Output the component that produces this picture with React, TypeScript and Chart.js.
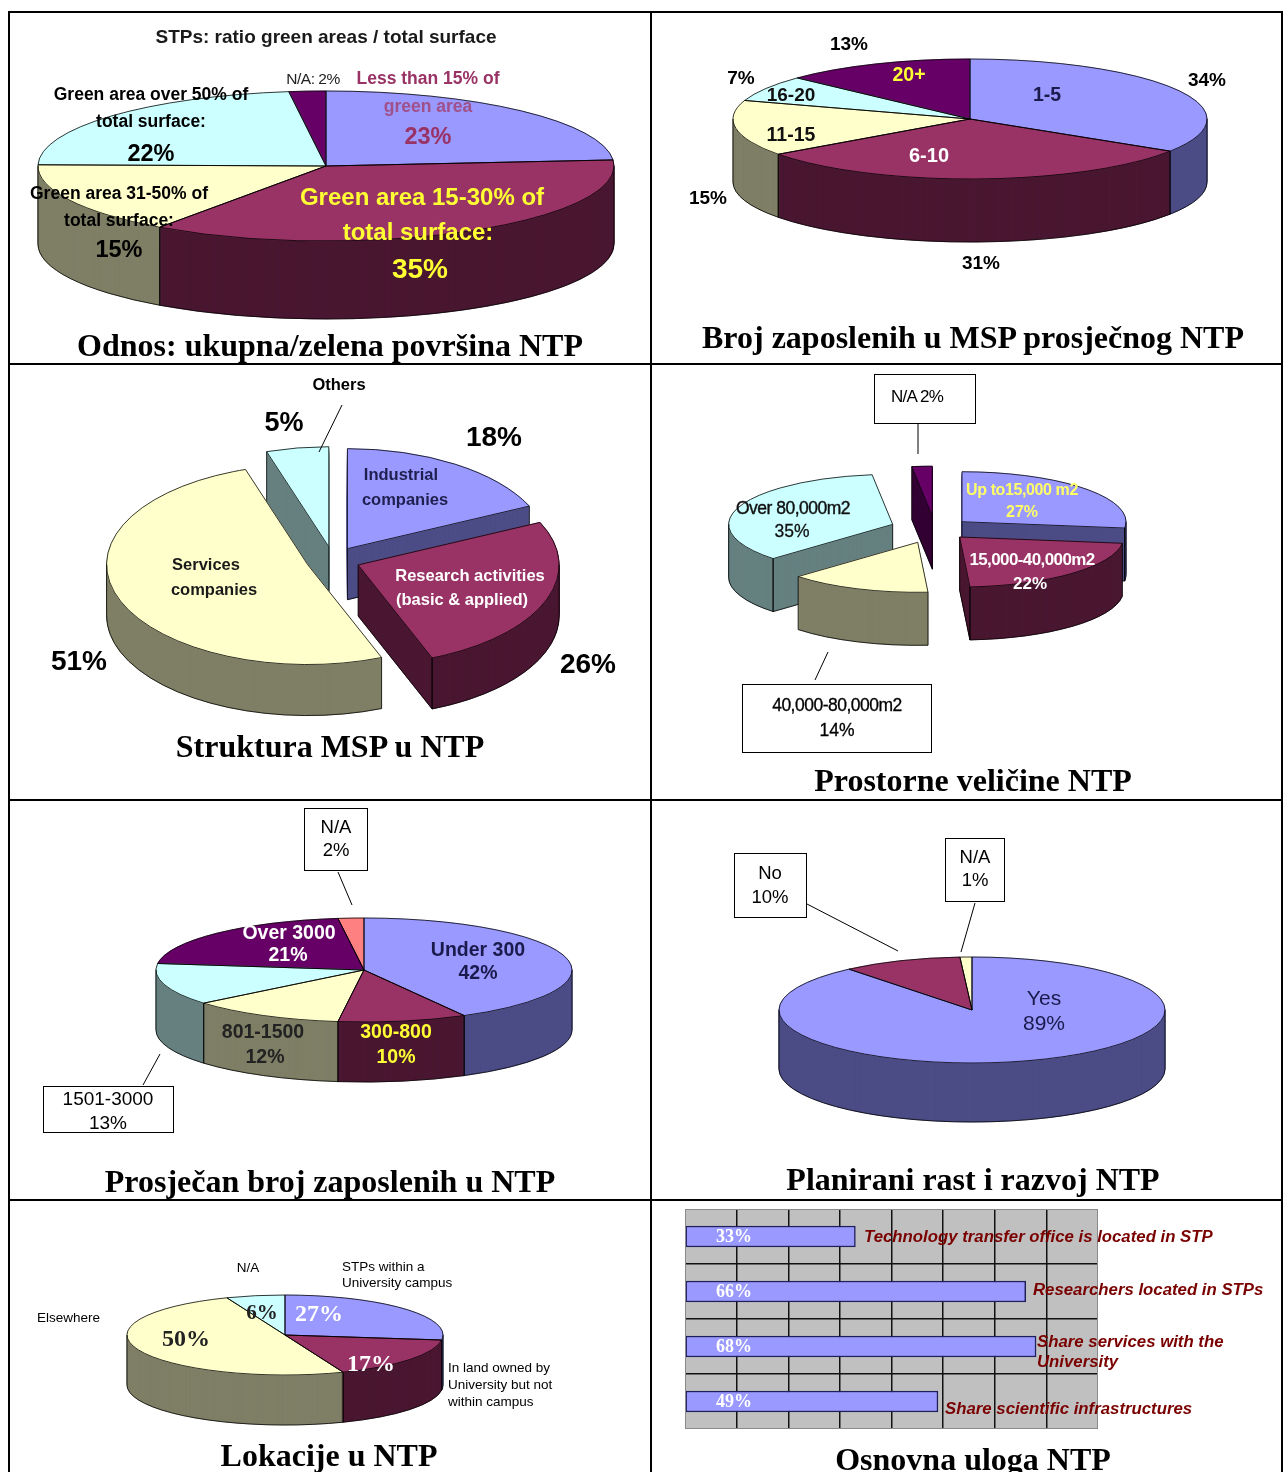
import React, { useEffect, useRef } from 'react';
import { Chart, registerables } from 'chart.js';

Chart.register(...registerables);

const SANS = '"Liberation Sans", Arial, Helvetica, sans-serif';
const SERIF = '"Liberation Serif", "Times New Roman", Times, serif';

// ---------------- data ----------------
const p1Labels = ['Less than 15% of green area', 'Green area 15-30% of total surface', 'Green area 31-50% of total surface', 'Green area over 50% of total surface', 'N/A'];
const p1Values = [23, 35, 15, 22, 2];

const p2Labels = ['1-5', '6-10', '11-15', '16-20', '20+'];
const p2Values = [34, 31, 15, 7, 13];

const p3Labels = ['Industrial companies', 'Research activities (basic & applied)', 'Services companies', 'Others'];
const p3Values = [18, 26, 51, 5];

const p4Labels = ['Up to15,000 m2', '15,000-40,000m2', '40,000-80,000m2', 'Over 80,000m2', 'N/A'];
const p4Values = [27, 22, 14, 35, 2];

const p5Labels = ['Under 300', '300-800', '801-1500', '1501-3000', 'Over 3000', 'N/A'];
const p5Values = [42, 10, 12, 13, 21, 2];

const p6Labels = ['Yes', 'No', 'N/A'];
const p6Values = [89, 10, 1];

const p7Labels = ['STPs within a University campus', 'In land owned by University but not within campus', 'Elsewhere', 'N/A'];
const p7Values = [27, 17, 50, 6];

const p8Categories = ['Technology transfer office is located in STP', 'Researchers located in STPs', 'Share services with the University', 'Share scientific infrastructures'];
const p8Values = [33, 66, 68, 49];
const p8AxisMin = 0;
const p8AxisMax = 80;
const p8AxisStep = 10;

// ---------------- colours ----------------
const LAV = '#9999ff', LAV_S = '#4c4c86';
const MAR = '#993366', MAR_S = '#4a1731';
const YEL = '#ffffcc', YEL_S = '#7f7f66';
const CYA = '#ccffff', CYA_S = '#668080';
const PUR = '#660066', PUR_S = '#330033';
const SAL = '#ff8080', SAL_S = '#804040';
const YT = '#ffff33';

type Geo = { cx: number; cy: number; rx: number; ry: number; depth: number; explode?: number[] };
type Rect = { left: number; top: number; width: number; height: number };

function makePie3d(geo: Geo, rect: Rect, colors: string[], sides: string[]) {
  return {
    id: 'pie3d',
    beforeDatasetsDraw(chart: any) {
      const ctx: CanvasRenderingContext2D = chart.ctx;
      const arcs: any[] = chart.getDatasetMeta(0).data;
      if (!arcs.length) return false;
      const cx = geo.cx - rect.left;
      const cy = geo.cy - rect.top;
      const rx = arcs[0].outerRadius;
      const ry = geo.ry;
      const k = ry / rx;
      const D = geo.depth;
      const ox = arcs[0].x, oy = arcs[0].y;
      const ex = geo.explode || [];
      const exploded = ex.some((e) => e > 0);
      const sh = arcs.map((a, i) => {
        const e = ex[i] || 0;
        const m = (a.startAngle + a.endAngle) / 2;
        return [e * Math.cos(m), e * Math.sin(m) * k];
      });
      const face = (a: any, i: number, dy: number, fill: string) => {
        ctx.save();
        ctx.translate(cx + sh[i][0], cy + sh[i][1] + dy);
        ctx.scale(1, k);
        ctx.translate(-ox, -oy);
        const fake = Object.create(a);
        fake.options = Object.assign({}, a.options, {
          backgroundColor: fill, borderColor: fill, borderWidth: 1, offset: 0, spacing: 0,
          borderAlign: 'center', borderDash: [], borderDashOffset: 0, borderJoinStyle: 'round', circular: true,
        });
        a.draw.call(fake, ctx);
        ctx.restore();
      };
      const ln = (x1: number, y1: number, x2: number, y2: number) => {
        ctx.beginPath(); ctx.moveTo(x1, y1); ctx.lineTo(x2, y2); ctx.stroke();
      };
      const outline = (a: any, i: number) => {
        ctx.save();
        ctx.strokeStyle = 'rgba(0,0,0,0.78)';
        ctx.lineWidth = 1;
        const X = cx + sh[i][0], Y = cy + sh[i][1];
        const s = a.startAngle, e = a.endAngle;
        const px = (t: number) => X + rx * Math.cos(t);
        const py = (t: number) => Y + ry * Math.sin(t);
        ctx.beginPath();
        ctx.moveTo(X, Y);
        ctx.lineTo(px(s), py(s));
        ctx.ellipse(X, Y, rx, ry, 0, s, e);
        ctx.closePath();
        ctx.stroke();
        const a0 = Math.max(s, 0), a1 = Math.min(e, Math.PI);
        if (a1 > a0) {
          ctx.beginPath();
          ctx.ellipse(X, Y + D, rx, ry, 0, a0, a1);
          ctx.stroke();
          ln(px(a0), py(a0), px(a0), py(a0) + D);
          ln(px(a1), py(a1), px(a1), py(a1) + D);
        }
        if ((ex[i] || 0) > 0) {
          const faces: number[] = [];
          if (Math.cos(s) < -1e-6) faces.push(s);
          if (Math.cos(e) > 1e-6) faces.push(e);
          for (const t of faces) {
            ln(X, Y, X, Y + D);
            ln(px(t), py(t), px(t), py(t) + D);
            ln(X, Y + D, px(t), py(t) + D);
          }
        }
        ctx.restore();
      };
      const mid = (i: number) => Math.sin((arcs[i].startAngle + arcs[i].endAngle) / 2);
      const order = arcs.map((_a, i) => i).sort((p, q) => mid(p) - mid(q));
      if (exploded) {
        for (const i of order) {
          for (let d = D; d >= 1; d--) face(arcs[i], i, d, sides[i]);
          face(arcs[i], i, 0, colors[i]);
          outline(arcs[i], i);
        }
      } else {
        for (let d = D; d >= 1; d--) for (const i of order) face(arcs[i], i, d, sides[i]);
        for (const i of order) face(arcs[i], i, 0, colors[i]);
        for (const i of order) outline(arcs[i], i);
      }
      return false;
    },
  };
}

function Pie3D({ rect, labels, values, colors, sides, geo }: { rect: Rect; labels: string[]; values: number[]; colors: string[]; sides: string[]; geo: Geo }) {
  const ref = useRef<HTMLCanvasElement>(null);
  useEffect(() => {
    const chart = new Chart(ref.current as HTMLCanvasElement, {
      type: 'pie',
      data: { labels, datasets: [{ data: values, backgroundColor: colors, borderWidth: 0 }] },
      options: {
        animation: false,
        responsive: false,
        maintainAspectRatio: false,
        events: [],
        radius: geo.rx,
        layout: { padding: 0 },
        plugins: { legend: { display: false }, tooltip: { enabled: false } },
      } as any,
      plugins: [makePie3d(geo, rect, colors, sides) as any],
    });
    return () => chart.destroy();
  }, []);
  return (
    <canvas
      ref={ref}
      width={rect.width}
      height={rect.height}
      style={{ position: 'absolute', left: rect.left, top: rect.top, width: rect.width, height: rect.height }}
    />
  );
}

const plotBg = {
  id: 'plotBg',
  beforeDraw(chart: any) {
    const { ctx, chartArea: a } = chart;
    ctx.save();
    ctx.fillStyle = '#c0c0c0';
    ctx.fillRect(a.left, a.top, a.right - a.left, a.bottom - a.top);
    ctx.restore();
  },
  afterDraw(chart: any) {
    const { ctx, chartArea: a } = chart;
    ctx.save();
    ctx.strokeStyle = '#8a8a8a';
    ctx.lineWidth = 1;
    ctx.strokeRect(a.left + 0.5, a.top + 0.5, a.right - a.left - 1, a.bottom - a.top - 1);
    ctx.restore();
  },
};

const barValues = {
  id: 'barValues',
  afterDatasetsDraw(chart: any) {
    const ctx = chart.ctx;
    const meta = chart.getDatasetMeta(0);
    ctx.save();
    ctx.font = `bold 18px ${SERIF}`;
    ctx.fillStyle = '#ffffff';
    ctx.textBaseline = 'middle';
    ctx.textAlign = 'left';
    meta.data.forEach((b: any, i: number) => {
      ctx.fillText(`${chart.data.datasets[0].data[i]}%`, chart.chartArea.left + 31, b.y + 1);
    });
    ctx.restore();
  },
};

const BAR_RECT: Rect = { left: 685, top: 1209, width: 413, height: 220 };

function Bars() {
  const ref = useRef<HTMLCanvasElement>(null);
  useEffect(() => {
    const chart = new Chart(ref.current as HTMLCanvasElement, {
      type: 'bar',
      data: {
        labels: p8Categories,
        datasets: [{
          data: p8Values, backgroundColor: LAV, borderColor: '#1f1f5c', borderWidth: 1.5,
          borderSkipped: false, barThickness: 21,
        }],
      },
      options: {
        indexAxis: 'y',
        animation: false,
        responsive: false,
        maintainAspectRatio: false,
        events: [],
        layout: { padding: 0 },
        scales: {
          x: {
            min: p8AxisMin, max: p8AxisMax,
            ticks: { display: false, stepSize: p8AxisStep },
            grid: { color: '#111', lineWidth: 1.5, drawTicks: false },
            border: { display: false },
          },
          y: {
            ticks: { display: false },
            grid: { offset: true, color: '#111', lineWidth: 1.5, drawTicks: false },
            border: { display: false },
          },
        },
        plugins: { legend: { display: false }, tooltip: { enabled: false } },
      } as any,
      plugins: [plotBg as any, barValues as any],
    });
    return () => chart.destroy();
  }, []);
  return (
    <canvas
      ref={ref}
      width={BAR_RECT.width}
      height={BAR_RECT.height}
      style={{ position: 'absolute', left: BAR_RECT.left, top: BAR_RECT.top, width: BAR_RECT.width, height: BAR_RECT.height }}
    />
  );
}

type L = { t: string; x: number; y: number; s: number; c?: string; w?: string; f?: string; i?: boolean; al?: 'c' | 'l'; ls?: number; st?: string };

function Lbl({ l }: { l: L }) {
  const style: any = {
    position: 'absolute',
    left: l.x,
    top: l.y,
    whiteSpace: 'nowrap',
    fontFamily: l.f || SANS,
    fontSize: l.s,
    lineHeight: 1,
    fontWeight: l.w || 'bold',
    fontStyle: l.i ? 'italic' : 'normal',
    color: l.c || '#000',
    letterSpacing: l.ls || 0,
    transform: l.al === 'l' ? 'translate(0,-50%)' : 'translate(-50%,-50%)',
  };
  if (l.st) style.WebkitTextStroke = l.st;
  return <div style={style}>{l.t}</div>;
}

const P1: Rect = { left: 10, top: 13, width: 640, height: 350 };
const P2: Rect = { left: 652, top: 13, width: 629, height: 350 };
const P3: Rect = { left: 10, top: 365, width: 640, height: 434 };
const P4: Rect = { left: 652, top: 365, width: 629, height: 434 };
const P5: Rect = { left: 10, top: 801, width: 640, height: 398 };
const P6: Rect = { left: 652, top: 801, width: 629, height: 398 };
const P7: Rect = { left: 10, top: 1201, width: 640, height: 271 };

const CAT = '#7a0000';

const labels: L[] = [
  // panel 1
  { t: 'STPs: ratio green areas / total surface', x: 326, y: 36, s: 19, c: '#1a1a1a' },
  { t: `${p1Labels[4]}: ${p1Values[4]}%`, x: 313, y: 79, s: 15.5, w: 'normal', c: '#222', ls: -0.5 },
  { t: 'Less than 15% of', x: 428, y: 79, s: 17.5, c: MAR },
  { t: 'green area', x: 428, y: 107, s: 17.5, c: '#a0508a' },
  { t: `${p1Values[0]}%`, x: 428, y: 137, s: 23.5, c: MAR },
  { t: 'Green area over 50% of', x: 151, y: 95, s: 17.5 },
  { t: 'total surface:', x: 151, y: 122, s: 17.5 },
  { t: `${p1Values[3]}%`, x: 151, y: 154, s: 23.5 },
  { t: 'Green area 31-50% of', x: 119, y: 194, s: 17.5 },
  { t: 'total surface:', x: 119, y: 221, s: 17.5 },
  { t: `${p1Values[2]}%`, x: 119, y: 250, s: 23.5 },
  { t: 'Green area 15-30% of', x: 422, y: 197, s: 24, c: YT },
  { t: 'total surface:', x: 418, y: 232, s: 24, c: YT },
  { t: `${p1Values[1]}%`, x: 420, y: 269, s: 28, c: YT },
  // panel 2
  { t: `${p2Values[4]}%`, x: 849, y: 43, s: 19 },
  { t: `${p2Values[3]}%`, x: 741, y: 77, s: 19 },
  { t: `${p2Values[0]}%`, x: 1207, y: 79, s: 19 },
  { t: `${p2Values[2]}%`, x: 708, y: 197, s: 19 },
  { t: `${p2Values[1]}%`, x: 981, y: 262, s: 19 },
  { t: p2Labels[4], x: 909, y: 75, s: 19.5, c: YT },
  { t: p2Labels[0], x: 1047, y: 95, s: 19.5, c: '#1a1a4d' },
  { t: p2Labels[3], x: 791, y: 94, s: 19, c: '#111' },
  { t: p2Labels[2], x: 791, y: 135, s: 19.5, c: '#111' },
  { t: p2Labels[1], x: 929, y: 155, s: 20, c: '#fff' },
  // panel 3
  { t: p3Labels[3], x: 339, y: 384, s: 16.5 },
  { t: `${p3Values[3]}%`, x: 284, y: 422, s: 27 },
  { t: `${p3Values[0]}%`, x: 494, y: 437, s: 28 },
  { t: 'Industrial', x: 401, y: 474, s: 16.5, c: '#1f1f4f' },
  { t: 'companies', x: 405, y: 499, s: 16.5, c: '#1f1f4f' },
  { t: 'Services', x: 206, y: 564, s: 16.5, c: '#1a1a1a' },
  { t: 'companies', x: 214, y: 589, s: 16.5, c: '#1a1a1a' },
  { t: 'Research activities', x: 470, y: 575, s: 16.5, c: '#fff' },
  { t: '(basic & applied)', x: 462, y: 599, s: 16.5, c: '#fff' },
  { t: `${p3Values[2]}%`, x: 79, y: 661, s: 28 },
  { t: `${p3Values[1]}%`, x: 588, y: 664, s: 28 },
  // panel 4
  { t: `${p4Labels[4]} ${p4Values[4]}%`, x: 917, y: 396, s: 17, w: 'normal', ls: -0.8 },
  { t: p4Labels[0], x: 1022, y: 490, s: 16, c: '#ffff66', ls: -0.4 },
  { t: `${p4Values[0]}%`, x: 1022, y: 512, s: 16, c: '#ffff66' },
  { t: p4Labels[3], x: 793, y: 509, s: 17.5, w: 'normal', ls: -0.5, c: '#111', st: '0.4px #111' },
  { t: `${p4Values[3]}%`, x: 792, y: 532, s: 17.5, w: 'normal', c: '#111', st: '0.3px #111' },
  { t: p4Labels[1], x: 1032, y: 559, s: 17, c: '#fff', ls: -0.6 },
  { t: `${p4Values[1]}%`, x: 1030, y: 583, s: 17, c: '#fff' },
  { t: p4Labels[2], x: 837, y: 706, s: 17.5, w: 'normal', ls: -0.5, st: '0.3px #000' },
  { t: `${p4Values[2]}%`, x: 837, y: 731, s: 17.5, w: 'normal', st: '0.3px #000' },
  // panel 5
  { t: p5Labels[5], x: 336, y: 827, s: 18.5, w: 'normal' },
  { t: `${p5Values[5]}%`, x: 336, y: 850, s: 18.5, w: 'normal' },
  { t: p5Labels[4], x: 289, y: 933, s: 19.5, c: '#fff' },
  { t: `${p5Values[4]}%`, x: 288, y: 955, s: 19.5, c: '#fff' },
  { t: p5Labels[0], x: 478, y: 950, s: 19.5, c: '#1a1a4d' },
  { t: `${p5Values[0]}%`, x: 478, y: 973, s: 19.5, c: '#1a1a4d' },
  { t: p5Labels[2], x: 263, y: 1032, s: 19.5, c: '#222' },
  { t: `${p5Values[2]}%`, x: 265, y: 1057, s: 19.5, c: '#222' },
  { t: p5Labels[1], x: 396, y: 1032, s: 19.5, c: YT },
  { t: `${p5Values[1]}%`, x: 396, y: 1057, s: 19.5, c: YT },
  { t: p5Labels[3], x: 108, y: 1098, s: 19, w: 'normal' },
  { t: `${p5Values[3]}%`, x: 108, y: 1122, s: 19, w: 'normal' },
  // panel 6
  { t: p6Labels[1], x: 770, y: 873, s: 18.5, w: 'normal' },
  { t: `${p6Values[1]}%`, x: 770, y: 897, s: 18.5, w: 'normal' },
  { t: p6Labels[2], x: 975, y: 857, s: 18.5, w: 'normal' },
  { t: `${p6Values[2]}%`, x: 975, y: 880, s: 18.5, w: 'normal' },
  { t: p6Labels[0], x: 1044, y: 997, s: 21, w: 'normal', c: '#1a1a4d' },
  { t: `${p6Values[0]}%`, x: 1044, y: 1022, s: 21, w: 'normal', c: '#1a1a4d' },
  // panel 7
  { t: p7Labels[3], x: 248, y: 1268, s: 13.5, w: 'normal' },
  { t: 'STPs within a', x: 342, y: 1267, s: 13.5, w: 'normal', al: 'l' },
  { t: 'University campus', x: 342, y: 1283, s: 13.5, w: 'normal', al: 'l' },
  { t: p7Labels[2], x: 37, y: 1318, s: 13.5, w: 'normal', al: 'l' },
  { t: `${p7Values[3]}%`, x: 262, y: 1312, s: 21, f: SERIF, c: '#222' },
  { t: `${p7Values[0]}%`, x: 319, y: 1313, s: 24, f: SERIF, c: '#fff' },
  { t: `${p7Values[2]}%`, x: 186, y: 1338, s: 24, f: SERIF, c: '#222' },
  { t: `${p7Values[1]}%`, x: 371, y: 1363, s: 24, f: SERIF, c: '#fff' },
  { t: 'In land owned by', x: 448, y: 1368, s: 13.5, w: 'normal', al: 'l' },
  { t: 'University but not', x: 448, y: 1385, s: 13.5, w: 'normal', al: 'l' },
  { t: 'within campus', x: 448, y: 1402, s: 13.5, w: 'normal', al: 'l' },
  // panel 8
  { t: p8Categories[0], x: 864, y: 1237, s: 16.8, i: true, c: CAT, al: 'l' },
  { t: p8Categories[1], x: 1033, y: 1290, s: 16.8, i: true, c: CAT, al: 'l' },
  { t: 'Share services with the', x: 1037, y: 1342, s: 16.8, i: true, c: CAT, al: 'l' },
  { t: 'University', x: 1037, y: 1362, s: 16.8, i: true, c: CAT, al: 'l' },
  { t: p8Categories[3], x: 945, y: 1409, s: 16.8, i: true, c: CAT, al: 'l' },
  // captions
  { t: 'Odnos: ukupna/zelena površina NTP', x: 330, y: 345, s: 32, f: SERIF },
  { t: 'Broj zaposlenih u MSP prosječnog NTP', x: 973, y: 337, s: 32, f: SERIF },
  { t: 'Struktura MSP u NTP', x: 330, y: 746, s: 32, f: SERIF },
  { t: 'Prostorne veličine NTP', x: 973, y: 780, s: 32, f: SERIF },
  { t: 'Prosječan broj zaposlenih u NTP', x: 330, y: 1181, s: 32, f: SERIF },
  { t: 'Planirani rast i razvoj NTP', x: 973, y: 1179, s: 32, f: SERIF },
  { t: 'Lokacije u NTP', x: 329, y: 1455, s: 32, f: SERIF },
  { t: 'Osnovna uloga NTP', x: 973, y: 1459, s: 32, f: SERIF },
];

const boxes = [
  { x: 874, y: 374, w: 102, h: 50 },
  { x: 742, y: 684, w: 190, h: 69 },
  { x: 304, y: 808, w: 64, h: 63 },
  { x: 43, y: 1086, w: 131, h: 47 },
  { x: 734, y: 853, w: 73, h: 65 },
  { x: 945, y: 838, w: 60, h: 64 },
];

const leaders = [
  [342, 405, 319, 452],
  [918, 424, 918, 454],
  [828, 652, 815, 680],
  [338, 872, 352, 905],
  [160, 1054, 143, 1085],
  [807, 904, 898, 951],
  [975, 903, 961, 952],
];

const rules = [
  { x: 8, y: 11, w: 1275, h: 2 },
  { x: 8, y: 11, w: 2, h: 1461 },
  { x: 650, y: 11, w: 2, h: 1461 },
  { x: 1281, y: 11, w: 2, h: 1461 },
  { x: 8, y: 363, w: 1275, h: 2 },
  { x: 8, y: 799, w: 1275, h: 2 },
  { x: 8, y: 1199, w: 1275, h: 2 },
];

export default function App() {
  return (
    <div style={{ position: 'absolute', left: 0, top: 0, width: 1283, height: 1472, overflow: 'hidden', background: '#fff' }}>
      <Pie3D rect={P1} labels={p1Labels} values={p1Values} colors={[LAV, MAR, YEL, CYA, PUR]} sides={[LAV_S, MAR_S, YEL_S, CYA_S, PUR_S]}
        geo={{ cx: 326, cy: 166, rx: 288, ry: 75, depth: 78 }} />
      <Pie3D rect={P2} labels={p2Labels} values={p2Values} colors={[LAV, MAR, YEL, CYA, PUR]} sides={[LAV_S, MAR_S, YEL_S, CYA_S, PUR_S]}
        geo={{ cx: 970, cy: 119, rx: 237, ry: 60, depth: 63 }} />
      <Pie3D rect={P3} labels={p3Labels} values={p3Values} colors={[LAV, MAR, YEL, CYA]} sides={[LAV_S, MAR_S, YEL_S, CYA_S]}
        geo={{ cx: 333, cy: 560, rx: 201, ry: 100, depth: 51, explode: [27, 27, 27, 27] }} />
      <Pie3D rect={P4} labels={p4Labels} values={p4Values} colors={[LAV, MAR, YEL, CYA, PUR]} sides={[LAV_S, MAR_S, YEL_S, CYA_S, PUR_S]}
        geo={{ cx: 935, cy: 529, rx: 164, ry: 50, depth: 53, explode: [36, 36, 47, 45, 42] }} />
      <Pie3D rect={P5} labels={p5Labels} values={p5Values} colors={[LAV, MAR, YEL, CYA, PUR, SAL]} sides={[LAV_S, MAR_S, YEL_S, CYA_S, PUR_S, SAL_S]}
        geo={{ cx: 364, cy: 970, rx: 208, ry: 52, depth: 60 }} />
      <Pie3D rect={P6} labels={p6Labels} values={p6Values} colors={[LAV, MAR, YEL]} sides={[LAV_S, MAR_S, YEL_S]}
        geo={{ cx: 972, cy: 1010, rx: 193, ry: 53, depth: 59 }} />
      <Pie3D rect={P7} labels={p7Labels} values={p7Values} colors={[LAV, MAR, YEL, CYA]} sides={[LAV_S, MAR_S, YEL_S, CYA_S]}
        geo={{ cx: 285, cy: 1335, rx: 158, ry: 40, depth: 50 }} />
      <Bars />
      {boxes.map((b, i) => (
        <div key={'b' + i} style={{ position: 'absolute', left: b.x, top: b.y, width: b.w, height: b.h, border: '1px solid #000', background: '#fff', boxSizing: 'border-box' }} />
      ))}
      <svg width={1283} height={1472} style={{ position: 'absolute', left: 0, top: 0 }}>
        {leaders.map((l, i) => (
          <line key={'l' + i} x1={l[0]} y1={l[1]} x2={l[2]} y2={l[3]} stroke="#000" strokeWidth={1} />
        ))}
      </svg>
      {labels.map((l, i) => <Lbl key={'t' + i} l={l} />)}
      {rules.map((r, i) => (
        <div key={'r' + i} style={{ position: 'absolute', left: r.x, top: r.y, width: r.w, height: r.h, background: '#000' }} />
      ))}
    </div>
  );
}
